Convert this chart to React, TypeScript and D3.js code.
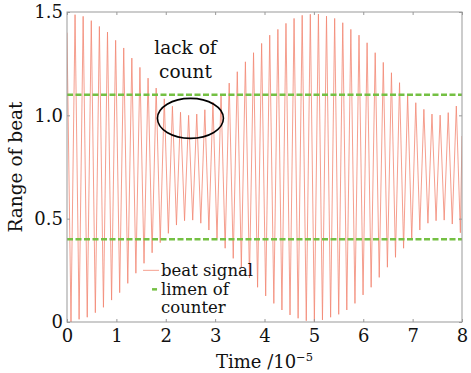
import * as d3 from 'd3';
import { useEffect, useRef } from 'react';

// extrema of the beat signal (time in 1e-5 s)
const START = { t: 0, v: 1.4 };
const END = { t: 8, v: 0.9 };

const TROUGH_T = [
  0.081, 0.245, 0.410, 0.574, 0.738, 0.903, 1.067, 1.231, 1.395, 1.560,
  1.724, 1.888, 2.053, 2.217, 2.381, 2.546, 2.710, 2.874, 3.038, 3.203,
  3.367, 3.531, 3.696, 3.860, 4.024, 4.189, 4.353, 4.517, 4.681, 4.846,
  5.010, 5.174, 5.339, 5.503, 5.667, 5.832, 5.996, 6.160, 6.324, 6.489,
  6.653, 6.817, 6.982, 7.146, 7.310, 7.475, 7.639, 7.803, 7.967
];
const TROUGH_V = [
  0.00, 0.013, 0.023, 0.045, 0.071, 0.106, 0.142, 0.187, 0.236, 0.284,
  0.335, 0.384, 0.429, 0.469, 0.49, 0.493, 0.478, 0.445, 0.405, 0.357,
  0.308, 0.265, 0.213, 0.168, 0.126, 0.09, 0.058, 0.034, 0.018, 0.006,
  0.002, 0.01, 0.023, 0.037, 0.058, 0.09, 0.131, 0.168, 0.216, 0.265,
  0.313, 0.357, 0.40, 0.445, 0.478, 0.49, 0.493, 0.474, 0.432
];
const PEAK_T = [
  0.163, 0.327, 0.492, 0.656, 0.820, 0.985, 1.149, 1.313, 1.477, 1.642,
  1.806, 1.970, 2.135, 2.299, 2.463, 2.628, 2.792, 2.956, 3.120, 3.285,
  3.449, 3.613, 3.778, 3.942, 4.106, 4.271, 4.435, 4.599, 4.763, 4.928,
  5.092, 5.256, 5.421, 5.585, 5.749, 5.914, 6.078, 6.242, 6.406, 6.571,
  6.735, 6.899, 7.064, 7.228, 7.392, 7.557, 7.721, 7.885
];
const PEAK_V = [
  1.487, 1.479, 1.458, 1.430, 1.403, 1.363, 1.326, 1.277, 1.232, 1.180,
  1.132, 1.080, 1.044, 1.015, 1.000, 1.006, 1.027, 1.064, 1.10, 1.156,
  1.211, 1.259, 1.303, 1.348, 1.388, 1.416, 1.445, 1.469, 1.484, 1.489,
  1.490, 1.480, 1.469, 1.448, 1.416, 1.388, 1.351, 1.303, 1.256, 1.206,
  1.158, 1.098, 1.061, 1.029, 1.006, 1.001, 1.013, 1.045
];

const LIMENS = [1.1, 0.4];
const X_TICKS = [0, 1, 2, 3, 4, 5, 6, 7, 8];
const Y_TICKS = [0, 0.5, 1.0, 1.5];

const W = 471;
const H = 373;
const FONT = '"DejaVu Serif", serif';
const SIGNAL_COLOR = '#f28672';
const LIMEN_COLOR = '#74c043';
const FRAME_COLOR = '#999';

function App() {
  const svgRef = useRef<SVGSVGElement>(null);

  useEffect(() => {
    if (!svgRef.current) { return; }
    const svg = d3.select(svgRef.current);
    svg.selectAll('*').remove();

    const pad = { top: 12, right: 9, bottom: 51, left: 67 };
    const cw = W - pad.left - pad.right;
    const ch = H - pad.top - pad.bottom;

    const x = d3.scaleLinear().domain([0, 8]).range([0, cw]);
    const y = d3.scaleLinear().domain([0, 1.5]).range([ch, 0]);

    const points = [START];
    TROUGH_T.forEach((t, i) => points.push({ t, v: TROUGH_V[i] }));
    PEAK_T.forEach((t, i) => points.push({ t, v: PEAK_V[i] }));
    points.push(END);
    points.sort((a, b) => a.t - b.t);

    svg.append('rect').attr('width', W).attr('height', H).attr('fill', '#fff');

    const g = svg.append('g').attr('transform', `translate(${pad.left},${pad.top})`);

    svg.append('defs').append('clipPath').attr('id', 'plot-clip')
      .append('rect').attr('width', cw).attr('height', ch);

    // beat signal
    const line = d3.line<{ t: number; v: number }>()
      .x(d => x(d.t))
      .y(d => y(d.v));

    g.append('path')
      .datum(points)
      .attr('clip-path', 'url(#plot-clip)')
      .attr('d', line)
      .attr('fill', 'none')
      .attr('stroke', SIGNAL_COLOR)
      .attr('stroke-width', 0.8);

    // counter thresholds
    LIMENS.forEach(v => {
      g.append('line')
        .attr('x1', 0).attr('x2', cw)
        .attr('y1', y(v)).attr('y2', y(v))
        .attr('stroke', LIMEN_COLOR)
        .attr('stroke-width', 2.5)
        .attr('stroke-dasharray', '6,2.5');
    });

    // frame and inward ticks
    const styleAxis = (sel: d3.Selection<SVGGElement, unknown, null, undefined>) => {
      sel.select('.domain').remove();
      sel.selectAll('line').attr('stroke', FRAME_COLOR);
      sel.selectAll('text')
        .attr('fill', '#111')
        .attr('font-family', FONT)
        .attr('font-size', 18);
    };

    const bottom = g.append('g')
      .attr('transform', `translate(0,${ch})`)
      .call(d3.axisBottom(x).tickValues(X_TICKS).tickSizeInner(-3).tickSizeOuter(0).tickPadding(7).tickFormat(d3.format('d')));
    styleAxis(bottom);

    const left = g.append('g')
      .call(d3.axisLeft(y).tickValues(Y_TICKS).tickSizeInner(-3).tickSizeOuter(0).tickPadding(4)
        .tickFormat(d => (d === 0 ? '0' : d3.format('.1f')(d as number))));
    styleAxis(left);

    const top = g.append('g')
      .call(d3.axisTop(x).tickValues(X_TICKS).tickSizeInner(-3).tickSizeOuter(0).tickFormat(() => ''));
    styleAxis(top);

    const right = g.append('g')
      .attr('transform', `translate(${cw},0)`)
      .call(d3.axisRight(y).tickValues(Y_TICKS).tickSizeInner(-3).tickSizeOuter(0).tickFormat(() => ''));
    styleAxis(right);

    g.append('rect')
      .attr('width', cw).attr('height', ch)
      .attr('fill', 'none')
      .attr('stroke', FRAME_COLOR)
      .attr('stroke-width', 1);

    // annotation
    g.append('ellipse')
      .attr('cx', x(2.5)).attr('cy', y(1.0) + 3)
      .attr('rx', 33).attr('ry', 20)
      .attr('fill', 'none')
      .attr('stroke', '#000')
      .attr('stroke-width', 1.6);

    const ann = g.append('text')
      .attr('text-anchor', 'middle')
      .attr('font-family', FONT)
      .attr('font-size', 18.5)
      .attr('fill', '#111');
    ann.append('tspan').attr('x', x(2.4)).attr('y', 42).text('lack of');
    ann.append('tspan').attr('x', x(2.4)).attr('y', 66).text('count');

    // legend
    const lg = g.append('g').attr('transform', `translate(${x(1.54)},${y(0.25)})`);
    lg.append('line')
      .attr('x1', 0).attr('x2', 16).attr('y1', 0).attr('y2', 0)
      .attr('stroke', SIGNAL_COLOR).attr('stroke-width', 0.8);
    lg.append('line')
      .attr('x1', 9).attr('x2', 14).attr('y1', 19).attr('y2', 19)
      .attr('stroke', LIMEN_COLOR).attr('stroke-width', 2.5);
    const lt = lg.append('text')
      .attr('font-family', FONT)
      .attr('font-size', 16.5)
      .attr('fill', '#111');
    lt.append('tspan').attr('x', 18).attr('y', 6).text('beat signal');
    lt.append('tspan').attr('x', 18).attr('y', 25).text('limen of');
    lt.append('tspan').attr('x', 18).attr('y', 43).text('counter');

    // axis titles
    const xt = svg.append('text')
      .attr('x', pad.left + x(4))
      .attr('y', H - 5)
      .attr('text-anchor', 'middle')
      .attr('font-family', FONT)
      .attr('font-size', 18)
      .attr('fill', '#111')
      .text('Time /10');
    xt.append('tspan').attr('dy', -7).attr('font-size', 11.5).text('−5');

    svg.append('text')
      .attr('transform', `translate(22,${pad.top + y(0.75)}) rotate(-90)`)
      .attr('text-anchor', 'middle')
      .attr('font-family', FONT)
      .attr('font-size', 18.5)
      .attr('fill', '#111')
      .text('Range of beat');
  }, []);

  return (
    <svg
      ref={svgRef}
      width={W}
      height={H}
      style={{ position: 'absolute', left: 0, top: 0, display: 'block' }}
    />
  );
}

export default App;
